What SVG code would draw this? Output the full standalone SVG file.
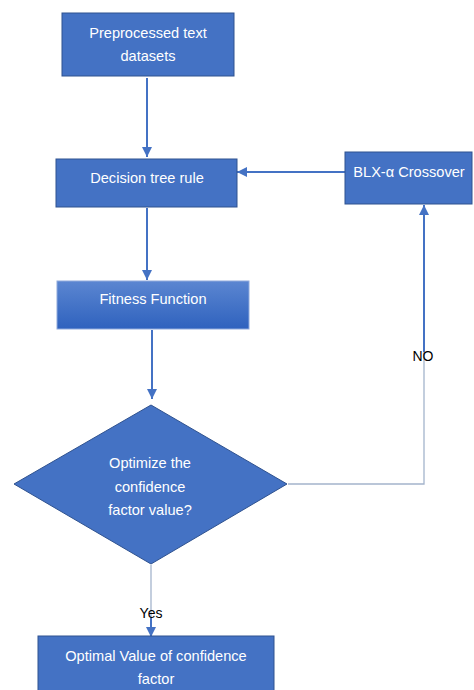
<svg xmlns="http://www.w3.org/2000/svg" width="474" height="690" viewBox="0 0 474 690">
<style>
.box{fill:#4472c4;stroke:#2f528f;stroke-width:1}
.t{font-family:"Liberation Sans",Arial,sans-serif;font-size:14.6px;fill:#ffffff;text-anchor:middle}
.lbl{font-family:"Liberation Sans",Arial,sans-serif;font-size:14px;fill:#000000;text-anchor:middle}
.c{fill:none;stroke:#4472c4;stroke-width:2}
.g{fill:none;stroke:#a4b4cc;stroke-width:1.3}
</style>
<defs>
<marker id="ah" viewBox="0 0 10 10" refX="10" refY="5" markerWidth="5" markerHeight="5" orient="auto" markerUnits="strokeWidth">
<path d="M0,0 L10,5 L0,10 z" fill="#4472c4"/>
</marker>
<linearGradient id="fg" x1="0" y1="0" x2="0" y2="1">
<stop offset="0" stop-color="#5b86d1"/>
<stop offset="1" stop-color="#2f62be"/>
</linearGradient>
</defs>
<rect width="474" height="690" fill="#ffffff"/>
<g id="connectors">
<line class="c" x1="147" y1="78" x2="147" y2="157" marker-end="url(#ah)"/>
<line class="c" x1="147" y1="208" x2="147" y2="280" marker-end="url(#ah)"/>
<line class="c" x1="152" y1="330" x2="152" y2="399" marker-end="url(#ah)"/>
<line class="c" x1="345" y1="172" x2="237" y2="172" marker-end="url(#ah)"/>
<polyline class="g" points="288,484 424,484 424,350"/>
<line class="c" x1="424" y1="352" x2="424" y2="205" marker-end="url(#ah)"/>
<line class="g" x1="151" y1="565" x2="151" y2="618"/>
<line class="c" x1="151" y1="618" x2="151" y2="637" marker-end="url(#ah)"/>
<text class="lbl" x="423" y="361">NO</text>
<text class="lbl" x="151" y="618">Yes</text>
</g>
<g id="n1">
<rect class="box" x="62" y="13" width="172" height="63"/>
<text class="t" x="148" y="38">Preprocessed text</text>
<text class="t" x="148" y="61">datasets</text>
</g>
<g id="n2">
<rect class="box" x="56" y="159" width="181" height="48"/>
<text class="t" x="147" y="183">Decision tree rule</text>
</g>
<g id="n3">
<rect class="box" x="345" y="152" width="127" height="52"/>
<text class="t" x="409" y="177">BLX-α Crossover</text>
</g>
<g id="n4">
<rect x="57" y="281" width="192" height="48" fill="url(#fg)" stroke="#8faadc" stroke-width="1"/>
<text class="t" x="153" y="304">Fitness Function</text>
</g>
<g id="n5">
<polygon class="box" points="151,405 287,484 151,564 14,484"/>
<text class="t" x="150" y="468">Optimize the</text>
<text class="t" x="150" y="492">confidence</text>
<text class="t" x="150" y="515">factor value?</text>
</g>
<g id="n6">
<rect class="box" x="38" y="636" width="236" height="60"/>
<text class="t" x="156" y="661">Optimal Value of confidence</text>
<text class="t" x="156" y="684">factor</text>
</g>
</svg>
